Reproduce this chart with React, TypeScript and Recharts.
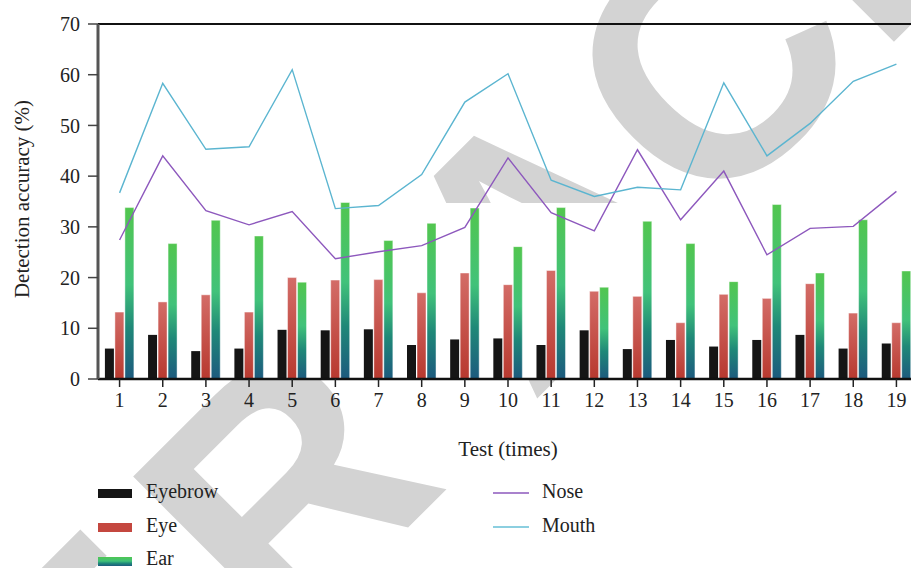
import React from "react";
import { ComposedChart, Bar, Line, XAxis, YAxis, ReferenceLine } from "recharts";

const tests = ["1", "2", "3", "4", "5", "6", "7", "8", "9", "10", "11", "12", "13", "14", "15", "16", "17", "18", "19"];
const eyebrow = [6.0, 8.7, 5.5, 6.0, 9.7, 9.6, 9.8, 6.7, 7.8, 8.0, 6.7, 9.6, 5.9, 7.7, 6.4, 7.7, 8.7, 6.0, 7.0];
const eye = [13.2, 15.2, 16.6, 13.2, 20.0, 19.5, 19.6, 17.0, 20.9, 18.6, 21.4, 17.3, 16.3, 11.1, 16.7, 15.9, 18.8, 13.0, 11.1];
const ear = [33.8, 26.7, 31.3, 28.2, 19.1, 34.8, 27.3, 30.7, 33.7, 26.1, 33.8, 18.1, 31.1, 26.7, 19.2, 34.4, 20.9, 31.4, 21.3];
const nose = [27.4, 44.0, 33.2, 30.4, 33.0, 23.7, 25.1, 26.3, 29.9, 43.6, 32.8, 29.2, 45.2, 31.4, 41.0, 24.5, 29.7, 30.1, 37.0];
const mouth = [36.7, 58.3, 45.3, 45.8, 61.0, 33.6, 34.2, 40.3, 54.6, 60.2, 39.2, 36.0, 37.8, 37.3, 58.4, 44.0, 50.4, 58.7, 62.1];
const yTicks = [0, 10, 20, 30, 40, 50, 60, 70];

// watermark letters and their offset along the stamp's baseline (px)
const stampLetters = ["R", "E", "T", "R", "A", "C", "T", "E", "D"];
const stampOffsets = [-1073, -841, -627, -355, 0, 247, 416, 620, 840];

const data = tests.map((t, i) => ({
  test: t,
  eyebrow: eyebrow[i],
  eye: eye[i],
  ear: ear[i],
  nose: nose[i],
  mouth: mouth[i],
}));

const serif = "'Liberation Serif', 'DejaVu Serif', serif";
const NOSE = "#8d58bd";
const MOUTH = "#5bb5d0";

const YTitle = () => (
  <text x={22} y={199} transform="rotate(-90 22 199)" textAnchor="middle" dominantBaseline="central"
    fontFamily={serif} fontSize={21} fill="#222">
    Detection accuracy (%)
  </text>
);

const XTitle = () => (
  <text x={508} y={456} textAnchor="middle" fontFamily={serif} fontSize={21} fill="#222">
    Test (times)
  </text>
);

function Watermark() {
  const ax = 532, ay = 234, k = Math.SQRT1_2;
  return (
    <svg width={911} height={568} style={{ position: "absolute", left: 0, top: 0 }}>
      {stampLetters.map((ch, i) => {
        const cx = ax + stampOffsets[i] * k;
        const cy = ay - stampOffsets[i] * k;
        return (
          <text key={i} x={cx} y={cy + 120} transform={`rotate(-45 ${cx} ${cy})`} textAnchor="middle"
            fontFamily="'Liberation Sans', Arial, sans-serif" fontWeight="bold" fontSize={335} fill="#d3d3d3">
            {ch}
          </text>
        );
      })}
      {/* the source image blanks the stamp over the lower plot band */}
      <rect x={0} y={203} width={911} height={177} fill="#fff" />
    </svg>
  );
}

function LegendBox() {
  const txt = { fontFamily: serif, fontSize: 20, fill: "#222" };
  return (
    <svg width={911} height={568} style={{ position: "absolute", left: 0, top: 0, pointerEvents: "none" }}>
      <defs>
        <linearGradient id="legEar" x1="0" x2="0" y1="0" y2="1">
          <stop offset="0%" stopColor="#4fc651" />
          <stop offset="45%" stopColor="#40c17a" />
          <stop offset="70%" stopColor="#1f8a79" />
          <stop offset="100%" stopColor="#1d5a7e" />
        </linearGradient>
      </defs>
      <rect x={98} y={489} width={34} height={9} fill="#151515" />
      <text x={146} y={498} {...txt}>Eyebrow</text>
      <rect x={98} y={523} width={34} height={9} fill="#c4473f" />
      <text x={146} y={532} {...txt}>Eye</text>
      <rect x={98} y={557} width={34} height={9} fill="url(#legEar)" />
      <text x={146} y={565} {...txt}>Ear</text>
      <line x1={493} x2={529} y1={493} y2={493} stroke={NOSE} strokeWidth={1.5} />
      <text x={542} y={498} {...txt}>Nose</text>
      <line x1={493} x2={529} y1={527} y2={527} stroke="#8ccfe0" strokeWidth={2} />
      <text x={542} y={532} {...txt}>Mouth</text>
    </svg>
  );
}

export default function App() {
  return (
    <div style={{ position: "absolute", left: 0, top: 0, width: 911, height: 568, overflow: "hidden", background: "#fff" }}>
      <Watermark />
      <div style={{ position: "absolute", left: 0, top: 0 }}>
        <ComposedChart width={926} height={568} data={data} margin={{ top: 24, right: 8, left: 0, bottom: 99 }}
          barCategoryGap="16%" barGap={1}>
          <defs>
            <linearGradient id="eyeGrad" x1="0" x2="0" y1="0" y2="1">
              <stop offset="0%" stopColor="#d36c67" />
              <stop offset="100%" stopColor="#b8392f" />
            </linearGradient>
            <linearGradient id="earGrad" x1="0" x2="0" y1="0" y2="1">
              <stop offset="0%" stopColor="#52c64f" />
              <stop offset="45%" stopColor="#41c27a" />
              <stop offset="70%" stopColor="#1f8878" />
              <stop offset="100%" stopColor="#1d5a7e" />
            </linearGradient>
          </defs>
          <XAxis dataKey="test" height={90} interval={0} tickSize={8} tickMargin={6}
            axisLine={{ stroke: "#111", strokeWidth: 2.5 }} tickLine={{ stroke: "#222", strokeWidth: 1.5 }}
            tick={{ fill: "#222", fontSize: 20, fontFamily: serif }} label={<XTitle />} />
          <YAxis width={98} domain={[0, 70]} ticks={yTicks} tickSize={10} tickMargin={8}
            axisLine={{ stroke: "#555", strokeWidth: 3 }} tickLine={{ stroke: "#444", strokeWidth: 1.5 }}
            tick={{ fill: "#222", fontSize: 20, fontFamily: serif }} label={<YTitle />} />
          <ReferenceLine y={70} stroke="#111" strokeWidth={2} />
          <Bar dataKey="eyebrow" name="Eyebrow" fill="#151515" isAnimationActive={false} />
          <Bar dataKey="eye" name="Eye" fill="url(#eyeGrad)" stroke="rgba(255,255,255,0.45)" strokeWidth={1} isAnimationActive={false} />
          <Bar dataKey="ear" name="Ear" fill="url(#earGrad)" stroke="rgba(255,255,255,0.45)" strokeWidth={1} isAnimationActive={false} />
          <Line dataKey="nose" name="Nose" type="linear" stroke={NOSE} strokeWidth={1.4} dot={false} isAnimationActive={false} />
          <Line dataKey="mouth" name="Mouth" type="linear" stroke={MOUTH} strokeWidth={1.4} dot={false} isAnimationActive={false} />
        </ComposedChart>
      </div>
      <LegendBox />
    </div>
  );
}
